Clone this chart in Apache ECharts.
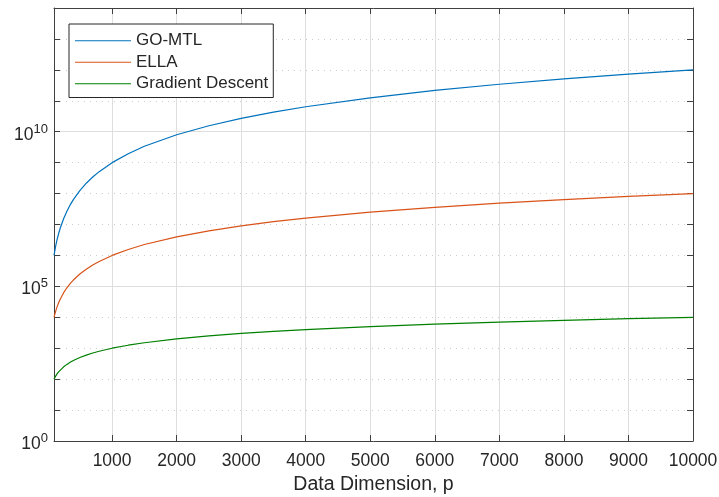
<!DOCTYPE html>
<html><head><meta charset="utf-8">
<script src="https://cdn.jsdelivr.net/npm/echarts@6/dist/echarts.min.js"></script>
<style>html,body{margin:0;padding:0;background:#fff}#c{width:719px;height:497px}</style>
</head><body><div id="c"></div>
<script>
// Data
const dims = [100, 125, 150, 175, 200, 250, 300, 350, 400, 500, 600, 700, 800, 1000, 1250, 1500, 2000, 2500, 3000, 3500, 4000, 5000, 6000, 7000, 8000, 9000, 10000];
const goMtl = [1.0e6, 1.95e6, 3.4e6, 5.4e6, 8.0e6, 1.56e7, 2.7e7, 4.3e7, 6.4e7, 1.25e8, 2.16e8, 3.43e8, 5.12e8, 1.0e9, 1.95e9, 3.4e9, 8.0e9, 1.56e10, 2.7e10, 4.3e10, 6.4e10, 1.25e11, 2.16e11, 3.43e11, 5.12e11, 7.29e11, 1.0e12];
const ella = [1.0e4, 1.56e4, 2.25e4, 3.06e4, 4.0e4, 6.25e4, 9.0e4, 1.23e5, 1.6e5, 2.5e5, 3.6e5, 4.9e5, 6.4e5, 1.0e6, 1.56e6, 2.25e6, 4.0e6, 6.25e6, 9.0e6, 1.23e7, 1.6e7, 2.5e7, 3.6e7, 4.9e7, 6.4e7, 8.1e7, 1.0e8];
const gradDesc = [100, 125, 150, 175, 200, 250, 300, 350, 400, 500, 600, 700, 800, 1000, 1250, 1500, 2000, 2500, 3000, 3500, 4000, 5000, 6000, 7000, 8000, 9000, 10000];
const seriesNames = ['GO-MTL', 'ELLA', 'Gradient Descent'];
const seriesColors = ['#0072BD', '#D95319', '#008000'];
const xTicks = [1000, 2000, 3000, 4000, 5000, 6000, 7000, 8000, 9000, 10000];
const yTicksAll = [1, 1e1, 1e2, 1e3, 1e4, 1e5, 1e6, 1e7, 1e8, 1e9, 1e10, 1e11, 1e12, 1e13, 1e14];
const yTicksMajor = [1, 1e5, 1e10];
const xLabel = 'Data Dimension, p';

const FONT = 'Liberation Sans, Arial, Helvetica, sans-serif';
const AX = '#404040';
const TXT = '#262626';

const chart = echarts.init(document.getElementById('c'), null, {renderer: 'canvas'});
const seriesData = [goMtl, ella, gradDesc];

const yMin = 1, yMax = 1e14, xMin = 100, xMax = 10000;

chart.setOption({
  animation: false,
  backgroundColor: '#fff',
  grid: {left: 54, right: 26, top: 8, bottom: 56, containLabel: false, outerBoundsMode: 'none'},
  legend: {
    data: seriesNames,
    orient: 'vertical',
    left: 69, top: 24,
    padding: [6, 5, 3, 6],
    icon: 'rect',
    itemWidth: 56, itemHeight: 1.2, itemGap: 0,
    borderColor: '#262626', borderWidth: 1, backgroundColor: '#fff',
    textStyle: {fontSize: 17, fontFamily: FONT, color: TXT, lineHeight: 21.5}
  },
  xAxis: [
    {
      type: 'value', position: 'bottom', min: xMin, max: xMax,
      axisLine: {show: true, onZero: false, lineStyle: {color: AX, width: 1}},
      axisTick: {show: true, inside: true, length: 6, customValues: xTicks, lineStyle: {color: AX}},
      axisLabel: {customValues: xTicks, fontSize: 17.5, fontFamily: FONT, color: TXT, margin: 11,
        formatter: function (v) { return String(v); }},
      splitLine: {show: true, lineStyle: {color: '#dedede', width: 1}},
      name: xLabel, nameLocation: 'middle', nameGap: 34,
      nameTextStyle: {fontSize: 19.5, fontFamily: FONT, color: TXT}
    },
    {
      type: 'value', position: 'top', min: xMin, max: xMax,
      axisLine: {show: true, onZero: false, lineStyle: {color: AX, width: 1}},
      axisTick: {show: true, inside: true, length: 6, customValues: xTicks, lineStyle: {color: AX}},
      axisLabel: {show: false},
      splitLine: {show: false}
    }
  ],
  yAxis: [
    {
      type: 'log', logBase: 10, position: 'left', min: yMin, max: yMax,
      axisLine: {show: true, onZero: false, lineStyle: {color: AX, width: 1}},
      axisTick: {show: true, inside: true, length: 6, customValues: yTicksAll, lineStyle: {color: AX}},
      axisLabel: {
        customValues: yTicksMajor, margin: 6,
        formatter: function (v) {
          const e = Math.round(Math.log10(v));
          return '{b|10}{s|' + e + '}';
        },
        rich: {
          b: {fontSize: 17.5, fontFamily: FONT, color: TXT, lineHeight: 18, padding: [6, 0, 0, 0]},
          s: {fontSize: 13, fontFamily: FONT, color: TXT, lineHeight: 13, padding: [0, 0, 5, 0]}
        }
      },
      splitLine: {show: true, lineStyle: {color: '#cccccc', width: 1, type: [1, 5]}}
    },
    {
      type: 'log', logBase: 10, position: 'left', min: yMin, max: yMax,
      axisLine: {show: false, onZero: false},
      axisTick: {show: false, customValues: yTicksMajor},
      axisLabel: {show: false, customValues: yTicksMajor},
      splitLine: {show: true, lineStyle: {color: '#dedede', width: 1}}
    },
    {
      type: 'log', logBase: 10, position: 'right', min: yMin, max: yMax,
      axisLine: {show: true, onZero: false, lineStyle: {color: AX, width: 1}},
      axisTick: {show: true, inside: true, length: 6, customValues: yTicksAll, lineStyle: {color: AX}},
      axisLabel: {show: false},
      splitLine: {show: false}
    }
  ],
  series: seriesNames.map(function (name, k) {
    return {
      name: name, type: 'line', xAxisIndex: 0, yAxisIndex: 0,
      symbol: 'none', showSymbol: false, smooth: false,
      color: seriesColors[k],
      lineStyle: {color: seriesColors[k], width: 1.2},
      data: dims.map(function (d, i) { return [d, seriesData[k][i]]; }),
      z: 3
    };
  })
});
</script>
</body></html>
